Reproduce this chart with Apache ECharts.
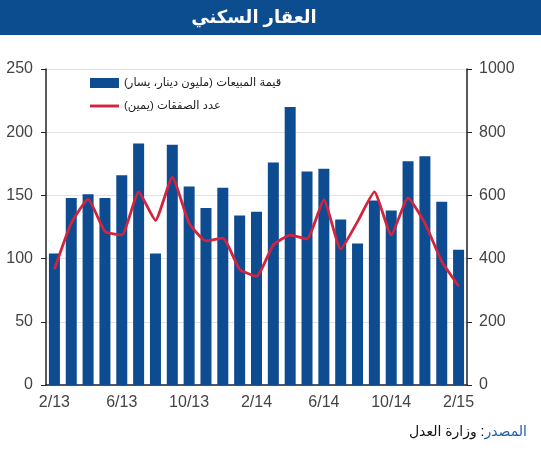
<!DOCTYPE html>
<html>
<head>
<meta charset="utf-8">
<script src="https://cdn.jsdelivr.net/npm/echarts@6/dist/echarts.min.js"></script>
<style>
  html, body { margin: 0; padding: 0; background: #fff; }
  #chart { width: 541px; height: 450px; }
</style>
</head>
<body>
<div id="chart"></div>
<script>
// monthly, 2/13 .. 2/15
const months = ['2/13', '3/13', '4/13', '5/13', '6/13', '7/13', '8/13', '9/13', '10/13', '11/13', '12/13', '1/14',
    '2/14', '3/14', '4/14', '5/14', '6/14', '7/14', '8/14', '9/14', '10/14', '11/14', '12/14', '1/15', '2/15'];

// sales value, million dinars (left axis)
const salesValue = [104, 148, 151, 148, 166, 191, 104, 190, 157, 140, 156, 134, 137, 176,
    220, 169, 171, 131, 112, 146, 138, 177, 181, 145, 107];

// number of transactions (right axis)
const dealCount = [366, 512, 588, 486, 475, 611, 521, 658, 512, 456, 465, 366, 344, 443,
    474, 462, 586, 430, 517, 611, 475, 592, 512, 391, 313];

const barName = 'قيمة المبيعات (مليون دينار، يسار)\u200F';
const lineName = 'عدد الصفقات (يمين)\u200F';

const blue = '#0d4c91';
const red = '#d2233f';
const font = 'Liberation Sans, Arial, DejaVu Sans, sans-serif';

const chart = echarts.init(document.getElementById('chart'));

chart.setOption({
    animation: false,
    textStyle: { fontFamily: font },
    grid: { left: 46, right: 74, top: 69, bottom: 65 },
    legend: {
        orient: 'vertical',
        left: 85,
        top: 72,
        itemWidth: 29,
        itemHeight: 10,
        itemGap: 11,
        textStyle: { fontSize: 11.5, color: '#222' },
        data: [
            { name: barName, icon: 'rect' },
            { name: lineName, icon: 'path://M0,3.5 L30,3.5 L30,6.5 L0,6.5 Z' }
        ]
    },
    graphic: [
        {
            type: 'rect',
            shape: { x: 0, y: 0, width: 541, height: 35 },
            style: { fill: '#0b4d8e' }
        },
        {
            type: 'text',
            x: 254, y: 18,
            style: {
                text: 'العقار السكني',
                fill: '#fff',
                font: 'bold 18px ' + font,
                textAlign: 'center',
                textVerticalAlign: 'middle'
            }
        },
        {
            type: 'text',
            right: 14, top: 425,
            style: {
                text: '{b|وزارة العدل :}{a|المصدر}',
                rich: {
                    a: { fill: '#1f5fa8', fontSize: 14, fontFamily: font },
                    b: { fill: '#111', fontSize: 14, fontFamily: font }
                }
            }
        }
    ],
    xAxis: [
        {
            type: 'category',
            data: months,
            boundaryGap: true,
            axisLine: { lineStyle: { color: '#222', width: 1.5 } },
            axisTick: { interval: 0, length: 4, lineStyle: { color: '#222' } },
            axisLabel: { interval: 3, color: '#444', fontSize: 16, margin: 10 }
        },
        {
            type: 'category',
            data: months,
            position: 'bottom',
            boundaryGap: true,
            axisLine: { show: false },
            axisTick: { interval: 3, length: 7, lineStyle: { color: '#222' } },
            axisLabel: { show: false }
        }
    ],
    yAxis: [
        {
            type: 'value',
            min: 0, max: 250, interval: 50,
            axisLine: { show: true, lineStyle: { color: '#222', width: 1.5 } },
            axisTick: { show: true, length: 5, lineStyle: { color: '#222' } },
            axisLabel: { color: '#444', fontSize: 16, margin: 13 },
            splitLine: { lineStyle: { color: '#e2e2e2' } }
        },
        {
            type: 'value',
            min: 0, max: 1000, interval: 200,
            position: 'right',
            axisLine: { show: true, lineStyle: { color: '#222', width: 1.5 } },
            axisTick: { show: true, length: 5, lineStyle: { color: '#222' } },
            axisLabel: { color: '#444', fontSize: 16, margin: 12, formatter: v => String(v) },
            splitLine: { show: false }
        }
    ],
    series: [
        {
            name: barName,
            type: 'bar',
            yAxisIndex: 0,
            barWidth: 11,
            itemStyle: { color: blue },
            data: salesValue
        },
        {
            name: lineName,
            type: 'line',
            yAxisIndex: 1,
            showSymbol: false,
            smooth: 0.15,
            lineStyle: { color: red, width: 2.8 },
            itemStyle: { color: red },
            data: dealCount,
            z: 5
        }
    ]
});
</script>
</body>
</html>
